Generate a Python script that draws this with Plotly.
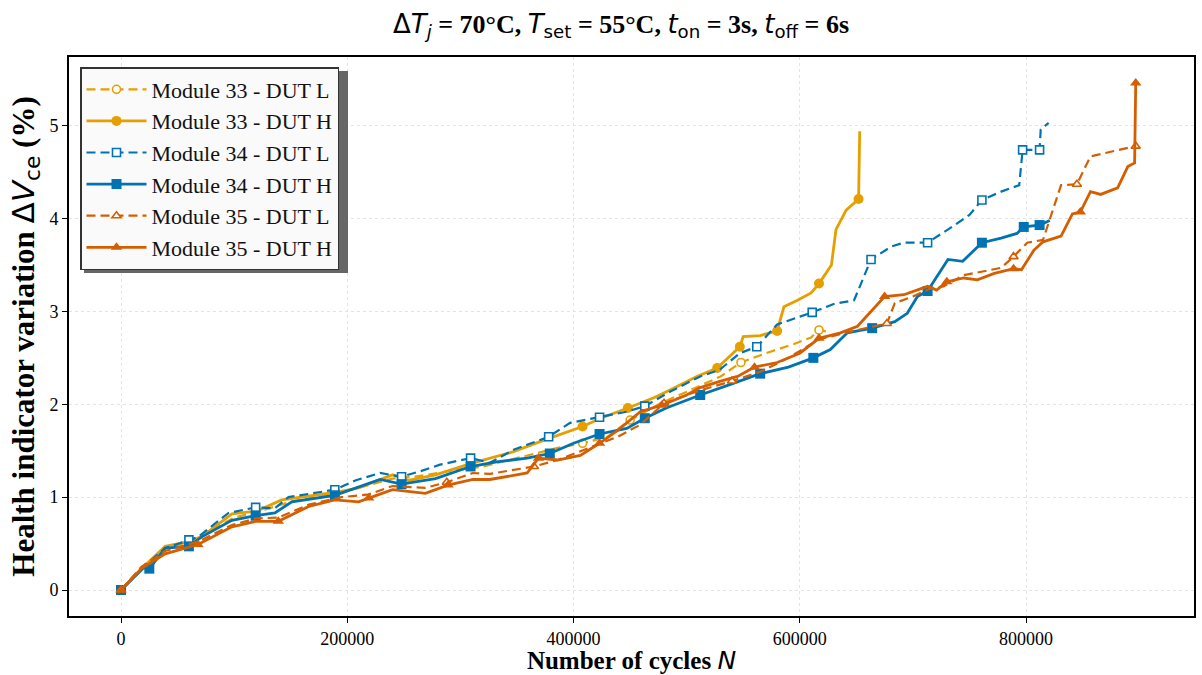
import plotly.graph_objects as go

# ---------------- data (cycles N, ΔVce in %) ----------------
m33L_x = [0, 20e3, 39e3, 60e3, 100e3, 120e3, 150e3, 189e3, 210e3, 240e3, 260e3, 290e3, 320e3, 350e3,
          386e3, 408e3, 430e3, 450e3, 477e3, 512e3, 530e3, 548e3, 570e3, 595e3, 610e3, 617e3, 625e3]
m33L_y = [0, 0.25, 0.45, 0.52, 0.78, 0.84, 0.95, 1.04, 1.10, 1.20, 1.22, 1.28, 1.33, 1.42,
          1.53, 1.58, 1.65, 1.83, 2.01, 2.20, 2.30, 2.45, 2.55, 2.65, 2.72, 2.80, 2.78]
m33L_mk = [0, 15, 17, 21, 25]

m33H_x = [0, 20e3, 39e3, 60e3, 72e3, 98e3, 120e3, 142e3, 189e3, 210e3, 240e3, 254e3, 278e3, 309e3,
          347e3, 371e3, 408e3, 424e3, 448e3, 471e3, 488e3, 509e3, 527e3, 547e3, 550e3, 565e3, 580e3,
          586e3, 598e3, 610e3, 617e3, 628e3, 632e3, 641e3, 652e3, 653e3]
m33H_y = [0, 0.25, 0.47, 0.52, 0.58, 0.82, 0.85, 0.97, 1.05, 1.10, 1.24, 1.18, 1.24, 1.36,
          1.49, 1.60, 1.76, 1.85, 1.96, 2.07, 2.17, 2.30, 2.39, 2.62, 2.73, 2.74, 2.79,
          3.05, 3.12, 3.20, 3.30, 3.50, 3.88, 4.09, 4.21, 4.94]
m33H_mk = [0, 16, 18, 22, 23, 26, 30, 34]

m34L_x = [0, 20e3, 39e3, 60e3, 68e3, 95e3, 119e3, 136e3, 148e3, 189e3, 207e3, 229e3, 248e3, 265e3,
          282e3, 309e3, 326e3, 347e3, 378e3, 397e3, 423e3, 447e3, 463e3, 486e3, 512e3, 529e3, 547e3,
          562e3, 580e3, 611e3, 630e3, 648e3, 663e3, 681e3, 692e3, 713e3, 737e3, 750e3, 761e3, 778e3,
          794e3, 797e3, 812e3, 813e3, 820e3]
m34L_y = [0, 0.25, 0.45, 0.54, 0.57, 0.83, 0.89, 0.88, 1.00, 1.08, 1.18, 1.26, 1.22, 1.28,
          1.35, 1.42, 1.37, 1.51, 1.65, 1.80, 1.86, 1.92, 1.98, 2.14, 2.30, 2.37, 2.55,
          2.62, 2.86, 2.99, 3.08, 3.12, 3.56, 3.70, 3.74, 3.74, 3.93, 4.04, 4.20, 4.29,
          4.36, 4.74, 4.74, 4.96, 5.03]
m34L_mk = [0, 3, 6, 9, 12, 15, 18, 20, 22, 27, 29, 32, 35, 38, 41, 42]

m34H_x = [0, 20e3, 25e3, 39e3, 60e3, 71e3, 98e3, 119e3, 136e3, 151e3, 189e3, 207e3, 229e3, 248e3,
          278e3, 309e3, 332e3, 359e3, 379e3, 400e3, 423e3, 447e3, 463e3, 482e3, 512e3, 540e3, 565e3,
          590e3, 612e3, 627e3, 642e3, 664e3, 684e3, 695e3, 704e3, 713e3, 731e3, 744e3, 761e3, 778e3,
          792e3, 798e3, 812e3, 821e3]
m34H_y = [0, 0.24, 0.23, 0.45, 0.47, 0.57, 0.75, 0.80, 0.83, 0.95, 1.02, 1.10, 1.19, 1.14,
          1.20, 1.33, 1.38, 1.42, 1.47, 1.58, 1.68, 1.74, 1.85, 1.96, 2.10, 2.22, 2.33,
          2.40, 2.50, 2.59, 2.77, 2.82, 2.89, 2.98, 3.16, 3.22, 3.56, 3.54, 3.74, 3.79,
          3.84, 3.91, 3.93, 3.98]
m34H_mk = [0, 2, 4, 7, 10, 13, 15, 18, 20, 22, 24, 26, 28, 31, 35, 38, 41, 42]

m35L_x = [0, 18e3, 39e3, 68e3, 98e3, 119e3, 139e3, 166e3, 195e3, 219e3, 240e3, 269e3, 288e3, 311e3,
          326e3, 365e3, 386e3, 409e3, 439e3, 459e3, 480e3, 500e3, 512e3, 540e3, 565e3, 590e3, 617e3,
          651e3, 677e3, 684e3, 700e3, 716e3, 727e3, 745e3, 769e3, 778e3, 789e3, 801e3, 815e3, 831e3,
          845e3, 857e3, 897e3]
m35L_y = [0, 0.25, 0.42, 0.52, 0.70, 0.77, 0.78, 0.92, 1.00, 1.03, 1.12, 1.10, 1.16, 1.26,
          1.25, 1.33, 1.40, 1.51, 1.65, 1.78, 2.01, 2.10, 2.15, 2.25, 2.35, 2.50, 2.70,
          2.80, 2.87, 3.09, 3.16, 3.25, 3.27, 3.39, 3.45, 3.47, 3.59, 3.74, 3.77, 4.36,
          4.37, 4.67, 4.78]
m35L_mk = [0, 12, 15, 20, 23, 28, 36, 40, 42]

m35H_x = [0, 18e3, 39e3, 68e3, 98e3, 119e3, 139e3, 166e3, 189e3, 210e3, 219e3, 240e3, 269e3, 289e3,
          311e3, 326e3, 359e3, 369e3, 386e3, 406e3, 423e3, 439e3, 459e3, 478e3, 500e3, 512e3, 530e3,
          545e3, 560e3, 580e3, 600e3, 617e3, 636e3, 651e3, 675e3, 692e3, 713e3, 721e3, 730e3, 745e3,
          757e3, 772e3, 789e3, 796e3, 807e3, 815e3, 831e3, 841e3, 848e3, 857e3, 866e3, 881e3, 890e3,
          896e3, 897e3]
m35H_y = [0, 0.23, 0.39, 0.49, 0.68, 0.74, 0.74, 0.90, 0.97, 0.95, 0.99, 1.08, 1.04, 1.13,
          1.19, 1.19, 1.26, 1.42, 1.40, 1.45, 1.58, 1.72, 1.92, 1.99, 2.10, 2.18, 2.25,
          2.30, 2.40, 2.45, 2.55, 2.71, 2.77, 2.84, 3.16, 3.18, 3.27, 3.23, 3.32, 3.36,
          3.34, 3.41, 3.46, 3.45, 3.66, 3.75, 3.81, 4.05, 4.07, 4.29, 4.26, 4.33, 4.56,
          4.60, 5.46]
m35H_mk = [0, 3, 6, 10, 13, 17, 20, 23, 28, 31, 34, 38, 42, 48, 54]

names = ["Module 33 - DUT L", "Module 33 - DUT H", "Module 34 - DUT L",
         "Module 34 - DUT H", "Module 35 - DUT L", "Module 35 - DUT H"]

# ---------------- style ----------------
YEL, BLU, ORA = "#E69F00", "#0173B2", "#D55E00"
series = [
    (m33L_x, m33L_y, m33L_mk, YEL, "dash", "circle", True),
    (m33H_x, m33H_y, m33H_mk, YEL, "solid", "circle", False),
    (m34L_x, m34L_y, m34L_mk, BLU, "dash", "square", True),
    (m34H_x, m34H_y, m34H_mk, BLU, "solid", "square", False),
    (m35L_x, m35L_y, m35L_mk, ORA, "dash", "triangle-up", True),
    (m35H_x, m35H_y, m35H_mk, ORA, "solid", "triangle-up", False),
]

SERIF = "Liberation Serif"
SANS = "DejaVu Sans"
fig = go.Figure()

for i, (xs, ys, mk, col, dash, sym, hollow) in enumerate(series):
    lw = 2.2 if hollow else 2.8
    dpat = "9px,5px" if dash == "dash" else "solid"
    msize = 8 if hollow else 10
    marker = dict(symbol=sym, size=msize,
                  color="white" if hollow else col,
                  line=dict(color=col, width=1.6 if hollow else 0))
    fig.add_trace(go.Scatter(x=xs, y=ys, mode="lines",
                             line=dict(color=col, width=lw, dash=dpat),
                             showlegend=False, hoverinfo="skip"))
    fig.add_trace(go.Scatter(x=[xs[k] for k in mk], y=[ys[k] for k in mk], mode="markers",
                             marker=marker, showlegend=False, hoverinfo="skip"))
    fig.add_trace(go.Scatter(x=[None], y=[None], mode="lines+markers", name=names[i],
                             line=dict(color=col, width=lw, dash=dpat), marker=marker,
                             legendgroup=f"g{i}"))

# plot area pixel geometry
L, R, T, B = 69, 1194, 57, 616
W, H = 1202, 675
def px(xp):
    return (xp - L) / (R - L)
def py(yp):
    return (B - yp) / (B - T)

title = (f"<span style=\"font-family:'{SANS}'\">Δ<i>T</i><sub><i>j</i></sub></span><b> = 70°C, </b>"
         f"<span style=\"font-family:'{SANS}'\"><i>T</i><sub>set</sub></span><b> = 55°C, </b>"
         f"<span style=\"font-family:'{SANS}'\"><i>t</i><sub>on</sub></span><b> = 3s, </b>"
         f"<span style=\"font-family:'{SANS}'\"><i>t</i><sub>off</sub></span><b> = 6s</b>")
ytitle = (f"<b>Health indicator variation </b><span style=\"font-family:'{SANS}'\">Δ<i>V</i>"
          f"<sub>ce</sub></span><b> (%)</b>")
xtitle = f"<b>Number of cycles </b><span style=\"font-family:'{SANS}'\"><i>N</i></span>"

axis_common = dict(showline=True, linecolor="black", linewidth=1.8, mirror=True,
                   ticks="outside", ticklen=5, tickwidth=1.2, tickcolor="black",
                   showgrid=True, gridcolor="#e4e4e4", griddash="dot", gridwidth=1,
                   zeroline=False, automargin=False,
                   tickfont=dict(family=SERIF, size=18, color="black"))

fig.update_layout(
    width=W, height=H,
    margin=dict(l=L, r=W - R, t=T, b=H - B),
    paper_bgcolor="white", plot_bgcolor="white",
    title=dict(text=title, xref="paper", x=px(621), xanchor="center", y=0.965, yanchor="middle",
               font=dict(family=SERIF, size=26, color="black")),
    xaxis=dict(axis_common, range=[-46000, 948500], tickvals=[0, 200000, 400000, 600000, 800000],
               ticktext=["0", "200000", "400000", "600000", "800000"],
               title=dict(text=xtitle, font=dict(family=SERIF, size=25, color="black"), standoff=11)),
    yaxis=dict(axis_common, range=[-0.28, 5.74], tickvals=[0, 1, 2, 3, 4, 5],
               title=dict(text=ytitle, font=dict(family=SERIF, size=31, color="black"), standoff=6)),
    legend=dict(x=px(80), y=py(67), xanchor="left", yanchor="top",
                bgcolor="#fafafa", bordercolor="#333333", borderwidth=1.5,
                font=dict(family=SERIF, size=22, color="#111111"),
                tracegroupgap=0, itemwidth=60, traceorder="grouped"),
    shapes=[dict(type="rect", xref="paper", yref="paper",
                 x0=px(84), x1=px(348), y0=py(273), y1=py(71),
                 fillcolor="#666666", line=dict(width=0), layer="above")],
)

fig.write_html("out.html")
